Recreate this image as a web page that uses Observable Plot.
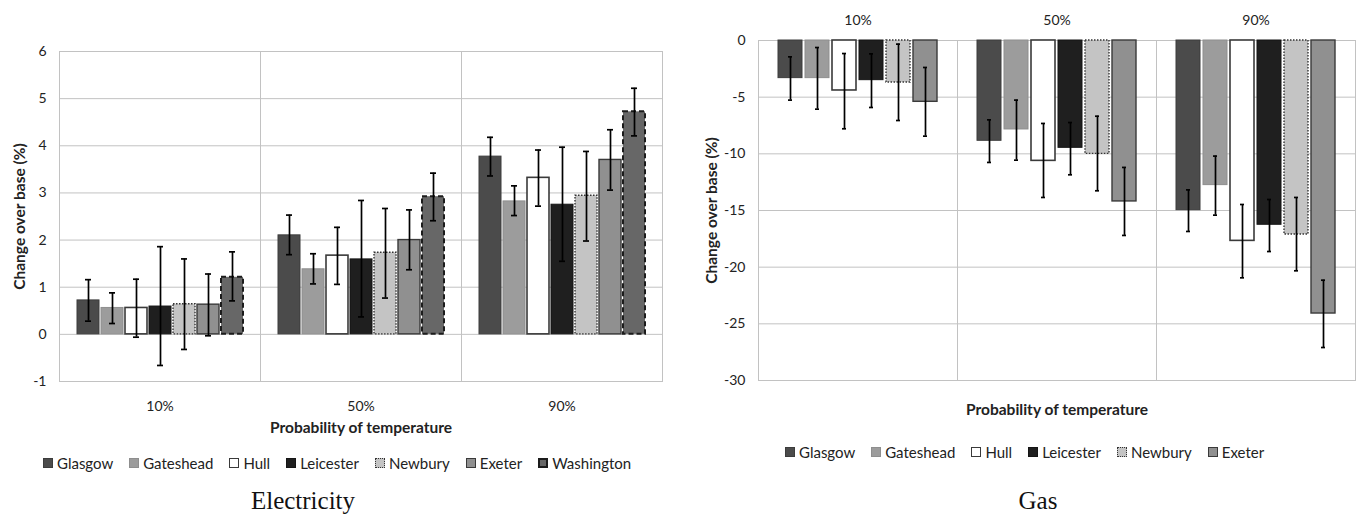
<!DOCTYPE html>
<html><head><meta charset="utf-8">
<script src="https://cdn.jsdelivr.net/npm/d3@7"></script>
<script src="https://cdn.jsdelivr.net/npm/@observablehq/plot@0.6"></script>
<style>
body{margin:0;background:#fff;width:1360px;height:516px;overflow:hidden;position:relative;font-family:Lato,"Open Sans",sans-serif;}
.panel{position:absolute;top:0;width:680px;height:516px;}
.panel svg{position:absolute;left:0;top:0;}
.legend{position:absolute;display:flex;align-items:center;font-size:15px;color:#222;white-space:nowrap;line-height:22px;}
.legend .item{display:flex;align-items:center;margin-right:16px;}
.sw{display:inline-block;width:10px;height:10px;box-sizing:border-box;margin-right:4px;}
.title{position:absolute;left:0;width:680px;font-family:"Liberation Serif","Times New Roman",serif;font-size:25px;color:#111;line-height:30px;}
</style></head>
<body>
<div class="panel" id="left" style="left:0"></div>
<div class="panel" id="right" style="left:680px"></div>
<script>
const categories = ["10%", "50%", "90%"];
const elecCities = ["Glasgow","Gateshead","Hull","Leicester","Newbury","Exeter","Washington"];
const gasCities = ["Glasgow","Gateshead","Hull","Leicester","Newbury","Exeter"];
const elecMean = [
 [0.72,0.56,0.56,0.59,0.64,0.63,1.21],
 [2.10,1.38,1.67,1.59,1.73,2.00,2.92],
 [3.77,2.82,3.32,2.75,2.94,3.70,4.72]];
const elecLow = [
 [0.28,0.23,-0.06,-0.66,-0.32,-0.03,0.71],
 [1.69,1.07,1.06,0.37,0.77,1.37,2.41],
 [3.36,2.52,2.72,1.55,1.98,3.06,4.21]];
const elecHigh = [
 [1.16,0.88,1.17,1.86,1.60,1.28,1.75],
 [2.53,1.71,2.27,2.84,2.67,2.64,3.42],
 [4.18,3.15,3.91,3.97,3.88,4.34,5.22]];
const gasMean = [
 [-3.32,-3.32,-4.41,-3.50,-3.71,-5.41],
 [-8.85,-7.85,-10.62,-9.47,-10.00,-14.20],
 [-14.97,-12.76,-17.68,-16.26,-17.12,-24.09]];
const gasLow = [
 [-5.26,-6.06,-7.79,-5.91,-7.06,-8.44],
 [-10.76,-10.56,-13.85,-11.85,-13.26,-17.20],
 [-16.85,-15.41,-20.94,-18.62,-20.32,-27.09]];
const gasHigh = [
 [-1.44,-0.62,-1.15,-1.18,-0.32,-2.38],
 [-7.00,-5.26,-7.32,-7.24,-6.68,-11.20],
 [-13.18,-10.20,-14.47,-14.03,-13.85,-21.15]];
const elecTicks = [-1,0,1,2,3,4,5,6];
const gasTicks = [-30,-25,-20,-15,-10,-5,0];
const yTitle = "Change over base (%)";
const xTitle = "Probability of temperature";

const cityStyle = {
 Glasgow:   {fill:"#4b4b4b", stroke:"#3c3c3c", strokeWidth:1},
 Gateshead: {fill:"#9c9c9c", stroke:"#8e8e8e", strokeWidth:1},
 Hull:      {fill:"#ffffff", stroke:"#3a3a3a", strokeWidth:1.6},
 Leicester: {fill:"#1f1f1f", stroke:"#151515", strokeWidth:1},
 Newbury:   {fill:"#c4c4c4", stroke:"#333333", strokeWidth:1.4, strokeDasharray:"1.5,1.5"},
 Exeter:    {fill:"#909090", stroke:"#3a3a3a", strokeWidth:1.4},
 Washington:{fill:"#676767", stroke:"#1c1c1c", strokeWidth:2, strokeDasharray:"5,3"}
};

function makeChart(o) {
  const rows = [];
  categories.forEach((cat, i) => o.cities.forEach((city, j) =>
    rows.push({cat, city, v: o.mean[i][j], lo: o.low[i][j], hi: o.high[i][j]})));
  const err = {stroke: "#000", strokeWidth: 1.7};
  const marks = [
    Plot.gridY(o.ticks, {stroke: "#c2c2c2", strokeOpacity: 1}),
    Plot.frame({stroke: "#c2c2c2"}),
    ...o.cities.map(c => Plot.barY(rows.filter(d => d.city === c),
      {fx: "cat", x: "city", y1: 0, y2: "v", ...cityStyle[c]})),
    Plot.ruleX(rows, {fx: "cat", x: "city", y1: "lo", y2: "hi", ...err}),
    Plot.tickY(rows, {fx: "cat", x: "city", y: "lo", inset: o.capInset, ...err}),
    Plot.tickY(rows, {fx: "cat", x: "city", y: "hi", inset: o.capInset, ...err}),
    ...(o.extra || [])
  ];
  const svg = Plot.plot({
    width: 680, height: o.height,
    marginLeft: o.ml, marginRight: o.mr, marginTop: o.mt, marginBottom: o.mb,
    style: {fontFamily: "Lato, 'Open Sans', sans-serif", fontSize: "14px", color: "#222", background: "white", overflow: "visible"},
    x: {domain: o.cities, paddingInner: 0.1, paddingOuter: o.po, axis: null},
    fx: {domain: categories, padding: 0, axis: o.fxAnchor, tickSize: 0, tickPadding: o.fxPad,
         label: o.fxLabel, labelAnchor: "center", labelArrow: "none", labelOffset: o.fxLabelOffset},
    y: {domain: o.yDomain, ticks: o.ticks, tickSize: 0, tickPadding: o.yPad, tickFormat: d => String(d),
        label: yTitle, labelAnchor: "center", labelArrow: "none", labelOffset: o.yLabelOffset},
    marks
  });
  svg.querySelectorAll("text").forEach(t => {
    if (t.textContent === yTitle || t.textContent === xTitle) {
      t.style.fontWeight = "bold";
      t.style.fontSize = "15.5px";
    }
  });
  return svg;
}

function legend(cities, left, top) {
  const div = document.createElement("div");
  div.className = "legend";
  div.style.left = left + "px";
  div.style.top = top + "px";
  for (const c of cities) {
    const s = cityStyle[c];
    const it = document.createElement("span");
    it.className = "item";
    const sw = document.createElement("span");
    sw.className = "sw";
    sw.style.background = s.fill;
    const bs = s.strokeDasharray ? (c === "Newbury" ? "dotted" : "dashed") : "solid";
    sw.style.border = `${c === "Washington" ? 2 : 1}px ${bs} ${s.stroke}`;
    it.appendChild(sw);
    it.appendChild(document.createTextNode(c));
    div.appendChild(it);
  }
  return div;
}
function title(text, cx, top) {
  const d = document.createElement("div");
  d.className = "title";
  d.style.top = top + "px";
  d.style.textAlign = "center";
  d.style.left = (cx - 340) + "px";
  d.textContent = text;
  return d;
}

const left = document.getElementById("left");
left.appendChild(makeChart({
  cities: elecCities, mean: elecMean, low: elecLow, high: elecHigh,
  ticks: elecTicks, yDomain: [-1, 6], height: 440,
  ml: 58, mr: 18, mt: 51, mb: 59, po: 0.65, capInset: 8,
  fxAnchor: "bottom", fxPad: 20, fxLabel: xTitle, fxLabelOffset: 51,
  yPad: 13, yLabelOffset: 46
}));
left.appendChild(legend(elecCities, 43, 452));
left.appendChild(title("Electricity", 303, 486));

const right = document.getElementById("right");
right.appendChild(makeChart({
  cities: gasCities, mean: gasMean, low: gasLow, high: gasHigh,
  ticks: gasTicks, yDomain: [-30, 0], height: 420,
  ml: 77, mr: 5, mt: 40, mb: 40, po: 0.64, capInset: 10,
  fxAnchor: "top", fxPad: 16, fxLabel: null, fxLabelOffset: 0,
  yPad: 13, yLabelOffset: 53,
  extra: [Plot.text([xTitle], {fx: ["50%"], text: d => d, frameAnchor: "bottom", dy: 34,
    fontWeight: "bold", fontSize: 15.5, fill: "#222"})]
}));
right.appendChild(legend(gasCities, 105, 441));
right.appendChild(title("Gas", 358, 486));
</script>
</body></html>
